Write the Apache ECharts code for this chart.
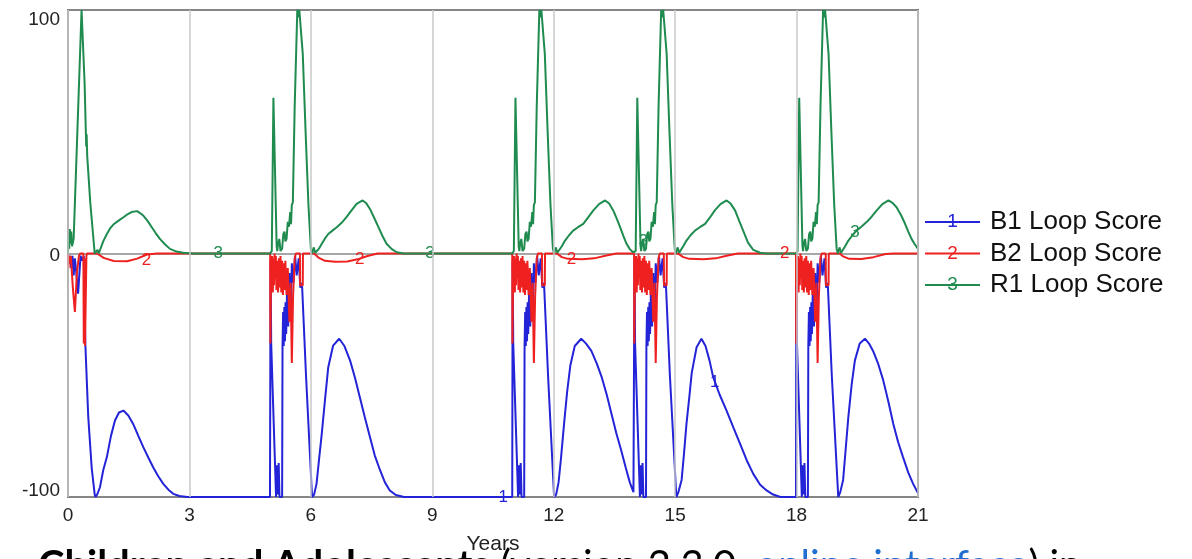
<!DOCTYPE html>
<html>
<head>
<meta charset="utf-8">
<script src="https://cdn.jsdelivr.net/npm/echarts@6/dist/echarts.min.js"></script>
<style>
html,body{margin:0;padding:0;background:#fff;}
#chart{width:1192px;height:559px;}
</style>
</head>
<body>
<div id="chart"></div>
<script>
// ---------------- DATA ----------------
const seriesNames = ['B1 Loop Score', 'B2 Loop Score', 'R1 Loop Score'];
const seriesDigits = ['1', '2', '3'];
const xTickStep = 3;
const yTickValues = [-100, 0, 100];

// B1 Loop Score (blue) [years, score]
const b1Ep1 = [[0,0],[0.02,-4],[0.05,-1],[0.08,-6],[0.11,-1],[0.14,-9],[0.17,-2],[0.2,-7],[0.25,-16.5],[0.29,-6],[0.31,-1],[0.35,-3],[0.39,-1],[0.41,-20],[0.43,-38],[0.5,-67],[0.585,-88],[0.66,-99],[0.68,-100],
  [0.72,-99],[0.79,-96],[0.87,-89],[0.96,-83.6],[1.06,-75],[1.16,-68.6],[1.26,-65.3],[1.37,-64.5],[1.49,-66.5],[1.61,-70],[1.74,-75],[1.86,-79.5],[1.99,-84],[2.11,-88],[2.23,-91.5],[2.35,-94.5],[2.48,-97],[2.6,-98.7],[2.75,-99.6],[2.95,-100],[4.99,-100]];
const b1Ep2 = [[5.0,-100],[5.005,-3],[5.02,-37],[5.14,-100],[5.165,-87],[5.185,-99],[5.205,-86],[5.225,-100],[5.29,-100],[5.30,-38],[5.315,-24],[5.33,-38],[5.345,-22],[5.36,-36],[5.375,-20],[5.39,-33],[5.41,-17],[5.44,-30],[5.47,-8],[5.50,-28],[5.53,-4],[5.57,-12],[5.61,-1],[5.65,-9],[5.70,-2],[5.74,-14],[5.78,-12],[5.88,-50],[6.03,-100],
  [6.08,-99],[6.14,-94.6],[6.2,-85],[6.27,-74],[6.35,-60],[6.43,-46.7],[6.55,-37.8],[6.70,-35],[6.83,-38],[6.97,-44],[7.09,-51],[7.21,-59],[7.33,-67],[7.46,-75.4],[7.58,-83],[7.71,-89],[7.83,-94],[7.95,-97.3],[8.1,-99.2],[8.3,-100],[10.975,-100]];
const b1Ep3 = [[10.98,-100],[10.985,-3],[11.0,-37],[11.12,-100],[11.145,-87],[11.165,-99],[11.185,-86],[11.205,-100],[11.27,-100],[11.28,-38],[11.295,-24],[11.31,-38],[11.325,-22],[11.34,-36],[11.355,-20],[11.37,-33],[11.39,-17],[11.42,-30],[11.45,-8],[11.48,-28],[11.51,-4],[11.55,-12],[11.59,-1],[11.63,-9],[11.68,-2],[11.72,-14],[11.76,-12],[11.86,-50],[12.01,-100],
  [12.06,-99],[12.12,-94],[12.18,-84],[12.25,-71],[12.33,-57],[12.41,-46],[12.52,-38],[12.68,-35],[12.8,-37],[12.93,-40],[13.06,-45],[13.19,-51],[13.31,-58],[13.43,-66],[13.55,-74],[13.67,-81],[13.78,-88],[13.88,-94],[13.97,-98]];
const b1Ep4 = [[13.99,-98],[13.995,-3],[14.01,-37],[14.13,-100],[14.155,-87],[14.175,-99],[14.195,-86],[14.215,-100],[14.28,-100],[14.29,-38],[14.305,-24],[14.32,-38],[14.335,-22],[14.35,-36],[14.365,-20],[14.38,-33],[14.40,-17],[14.43,-30],[14.46,-8],[14.49,-28],[14.52,-4],[14.56,-12],[14.60,-1],[14.64,-9],[14.69,-2],[14.73,-14],[14.77,-12],[14.87,-50],[15.03,-100],
  [15.08,-98],[15.16,-93],[15.22,-82],[15.28,-70],[15.35,-59],[15.41,-49],[15.53,-38.5],[15.65,-35],[15.75,-38],[15.85,-44],[15.94,-50.8],[16.1,-58],[16.27,-64.5],[16.44,-71.5],[16.6,-78],[16.77,-85],[16.93,-90.5],[17.1,-95],[17.26,-97.3],[17.42,-99],[17.6,-100],[17.985,-100]];
const b1Ep5 = [[17.99,-100],[17.995,-3],[18.01,-37],[18.13,-100],[18.155,-87],[18.175,-99],[18.195,-86],[18.215,-100],[18.28,-100],[18.29,-38],[18.305,-24],[18.32,-38],[18.335,-22],[18.35,-36],[18.365,-20],[18.38,-33],[18.40,-17],[18.43,-30],[18.46,-8],[18.49,-28],[18.52,-4],[18.56,-12],[18.60,-1],[18.64,-9],[18.69,-2],[18.73,-14],[18.77,-12],[18.87,-50],[19.03,-100],
  [19.08,-98],[19.15,-93],[19.21,-81],[19.28,-67],[19.36,-54],[19.44,-44],[19.56,-37],[19.69,-35],[19.79,-37],[19.89,-40],[20.01,-45],[20.14,-52],[20.27,-61],[20.39,-70],[20.51,-77.5],[20.63,-83.6],[20.76,-90],[20.88,-94.6],[21.0,-98.4]];

// B2 Loop Score (red)
const b2Ep1 = [[0,0],[0.01,-6],[0.03,-1],[0.05,-4],[0.07,-1],[0.12,-14],[0.17,-24],[0.22,-8],[0.27,-1],[0.3,0],[0.38,0],[0.39,-37],[0.405,-2],[0.42,-38],[0.44,-38],[0.455,-1],[0.47,0],
  [0.72,0],[0.88,-1.8],[1.13,-3.1],[1.46,-3.2],[1.71,-2.1],[1.95,-0.4],[2.2,0],[4.995,0]];
const b2Ep2 = [[5.0,-37],[5.012,-37],[5.02,-2],[5.03,-14],[5.045,-1],[5.06,-16],[5.075,-2],[5.09,-13],[5.105,0],[5.12,-10],[5.135,-1],[5.15,-15],[5.17,-3],[5.19,-16],[5.21,-2],[5.23,-14],[5.25,-1],[5.27,-16],[5.29,-3],[5.31,-17],[5.33,-4],[5.35,-15],[5.37,-3],[5.40,-17],[5.43,-6],[5.47,-28],[5.50,-12],[5.53,-45],[5.56,-18],[5.60,-2],[5.63,0],[5.73,0],[5.735,-13],[5.80,-13],[5.805,0],[6.08,0],
  [6.2,-1.8],[6.35,-3],[6.6,-3.4],[6.9,-3.3],[7.15,-2.4],[7.4,-1],[7.65,0],[10.975,0]];
const b2Ep3 = [[10.98,-37],[10.992,-37],[11.0,-2],[11.01,-14],[11.025,-1],[11.04,-16],[11.055,-2],[11.07,-13],[11.085,0],[11.10,-10],[11.115,-1],[11.13,-15],[11.15,-3],[11.17,-16],[11.19,-2],[11.21,-14],[11.23,-1],[11.25,-16],[11.27,-3],[11.29,-17],[11.31,-4],[11.33,-15],[11.35,-3],[11.38,-17],[11.41,-6],[11.45,-28],[11.48,-12],[11.51,-45],[11.54,-18],[11.58,-2],[11.61,0],[11.71,0],[11.715,-13],[11.78,-13],[11.785,0],[12.08,0],
  [12.2,-1.5],[12.35,-2.2],[12.7,-2.4],[13.0,-2],[13.3,-0.8],[13.55,0],[13.985,0]];
const b2Ep4 = [[13.99,-37],[14.002,-37],[14.01,-2],[14.02,-14],[14.035,-1],[14.05,-16],[14.065,-2],[14.08,-13],[14.095,0],[14.11,-10],[14.125,-1],[14.14,-15],[14.16,-3],[14.18,-16],[14.20,-2],[14.22,-14],[14.24,-1],[14.26,-16],[14.28,-3],[14.30,-17],[14.32,-4],[14.34,-15],[14.36,-3],[14.39,-17],[14.42,-6],[14.46,-28],[14.49,-12],[14.52,-45],[14.55,-18],[14.59,-2],[14.62,0],[14.72,0],[14.725,-13],[14.79,-13],[14.795,0],[15.07,0],
  [15.2,-1.5],[15.35,-2.2],[15.7,-2.4],[16.0,-2],[16.3,-0.8],[16.55,0],[17.985,0]];
const b2Ep5 = [[17.99,-37],[18.002,-37],[18.01,-2],[18.02,-14],[18.035,-1],[18.05,-16],[18.065,-2],[18.08,-13],[18.095,0],[18.11,-10],[18.125,-1],[18.14,-15],[18.16,-3],[18.18,-16],[18.20,-2],[18.22,-14],[18.24,-1],[18.26,-16],[18.28,-3],[18.30,-17],[18.32,-4],[18.34,-15],[18.36,-3],[18.39,-17],[18.42,-6],[18.46,-28],[18.49,-12],[18.52,-45],[18.55,-18],[18.59,-2],[18.62,0],[18.72,0],[18.725,-13],[18.79,-13],[18.795,0],[19.07,0],
  [19.15,-1.2],[19.3,-2.2],[19.6,-2.3],[19.9,-1.5],[20.2,-0.2],[20.4,0],[21,0]];

// R1 Loop Score (green)
const r1Ep1 = [[0,0],[0.015,8],[0.03,2],[0.045,10],[0.06,4],[0.08,9],[0.1,3],[0.14,6],[0.335,100],[0.365,100],[0.41,70],[0.45,44],[0.46,49],[0.475,40],[0.55,21],[0.66,0],[0.7,0],[0.73,1.5],[0.76,0],
  [0.79,0.5],[0.87,5],[0.96,8],[1.04,10.3],[1.12,11.9],[1.25,13.5],[1.37,14.9],[1.47,16.1],[1.57,17],[1.71,17.4],[1.86,15.6],[1.97,13.3],[2.07,10.8],[2.17,8.3],[2.27,6],[2.4,3.7],[2.52,1.9],[2.68,0.8],[2.85,0.3],[3.1,0],[4.99,0]];
const r1Ep2 = [[5.0,0],[5.035,1],[5.075,64],[5.09,64],[5.155,3],[5.17,1],[5.19,4],[5.22,6],[5.25,1],[5.29,2],[5.32,8],[5.35,9],[5.37,5],[5.40,6],[5.43,13],[5.46,11],[5.49,17],[5.51,12],[5.53,20],[5.555,21],[5.60,60],[5.665,100],[5.69,97],[5.715,100],[5.75,100],[5.80,82],[5.87,50],[5.94,20],[6.0,2],[6.03,0],[6.07,2.5],[6.11,0.3],[6.15,0.5],
  [6.2,2],[6.27,4],[6.35,6.2],[6.43,8],[6.54,9.5],[6.64,10.8],[6.76,12.6],[6.88,14.9],[7.0,17.6],[7.13,20.4],[7.28,21.8],[7.37,20.6],[7.46,18.3],[7.56,14.8],[7.67,10.8],[7.77,7.2],[7.87,4],[8.0,1.8],[8.12,0.5],[8.3,0],[10.975,0]];
const r1Ep3 = [[10.98,0],[11.015,1],[11.055,64],[11.07,64],[11.135,3],[11.15,1],[11.17,4],[11.20,6],[11.23,1],[11.27,2],[11.30,8],[11.33,9],[11.35,5],[11.38,6],[11.41,13],[11.44,11],[11.47,17],[11.49,12],[11.51,20],[11.535,21],[11.58,60],[11.645,100],[11.67,97],[11.695,100],[11.73,100],[11.78,82],[11.85,50],[11.92,20],[11.98,2],[12.01,0],[12.05,2.5],[12.09,0.3],[12.12,0.5],
  [12.2,3],[12.28,5.3],[12.38,7.5],[12.48,9.4],[12.6,10.8],[12.73,12.2],[12.85,14.8],[12.98,17.7],[13.12,20.3],[13.27,21.8],[13.37,20.5],[13.47,17.7],[13.56,14.2],[13.64,10.8],[13.72,7.2],[13.8,4],[13.88,1.8],[13.96,0.5],[13.985,0.2]];
const r1Ep4 = [[13.99,0],[14.025,1],[14.065,64],[14.08,64],[14.145,3],[14.16,1],[14.18,4],[14.21,6],[14.24,1],[14.28,2],[14.31,8],[14.34,9],[14.36,5],[14.39,6],[14.42,13],[14.45,11],[14.48,17],[14.50,12],[14.52,20],[14.545,21],[14.59,60],[14.655,100],[14.68,97],[14.705,100],[14.74,100],[14.79,82],[14.86,50],[14.93,20],[14.99,2],[15.02,0],[15.06,2.5],[15.10,0.3],[15.14,0.5],
  [15.2,3],[15.28,5.3],[15.38,7.5],[15.49,9.4],[15.61,10.8],[15.74,12.2],[15.86,14.8],[15.98,17.7],[16.12,20.3],[16.27,21.8],[16.37,20.5],[16.48,17.7],[16.58,13.5],[16.68,9.4],[16.8,4.5],[16.93,1.5],[17.1,0.3],[17.26,0],[17.985,0]];
const r1Ep5 = [[17.99,0],[18.025,1],[18.065,64],[18.08,64],[18.145,3],[18.16,1],[18.18,4],[18.21,6],[18.24,1],[18.28,2],[18.31,8],[18.34,9],[18.36,5],[18.39,6],[18.42,13],[18.45,11],[18.48,17],[18.50,12],[18.52,20],[18.545,21],[18.59,60],[18.655,100],[18.68,97],[18.705,100],[18.74,100],[18.79,82],[18.86,50],[18.93,20],[18.99,2],[19.02,0],[19.06,2.5],[19.10,0.3],[19.14,0.5],
  [19.2,3],[19.28,5.3],[19.38,7.5],[19.48,9.4],[19.6,11],[19.73,12.9],[19.86,15.2],[19.98,17.7],[20.12,20.3],[20.27,21.8],[20.37,20.8],[20.47,19],[20.58,15.8],[20.68,12.2],[20.76,9],[20.84,6],[20.92,3.8],[21.0,1.9]];

// Vensim-style line identifiers placed along each line [years, score]
const b1Marks = [[10.75,-100],[15.98,-53]];
const b2Marks = [[1.94,-2.6],[7.21,-2.4],[12.44,-2.2],[17.71,0]];
const r1Marks = [[3.71,0],[8.94,0],[14.21,5],[19.44,8.8]];

// ---------------- CHART ----------------
const colors = ['#2323d8', '#ee2020', '#1f8b4f'];
const seriesData = [
  [].concat(b1Ep1, b1Ep2, b1Ep3, b1Ep4, b1Ep5),
  [].concat(b2Ep1, b2Ep2, b2Ep3, b2Ep4, b2Ep5),
  [].concat(r1Ep1, r1Ep2, r1Ep3, r1Ep4, r1Ep5)
];
const seriesMarks = [b1Marks, b2Marks, r1Marks];

const font = "'Liberation Sans', Arial, Helvetica, sans-serif";
const chart = echarts.init(document.getElementById('chart'), null, {renderer: 'canvas'});

const legendTop = 209, legendRow = 31.5;

const option = {
  animation: false,
  backgroundColor: '#fff',
  textStyle: {fontFamily: font},
  color: colors,
  grid: {left: 68, right: 274, top: 10, bottom: 62, containLabel: false, outerBoundsMode: 'none',
    show: true, borderColor: '#7d7d7d', borderWidth: 2, backgroundColor: 'transparent'},
  legend: {
    orient: 'vertical', left: 925, top: legendTop, padding: 0,
    itemWidth: 55, itemHeight: 2, itemGap: legendRow - 26, icon: 'rect',
    textStyle: {fontSize: 26, lineHeight: 26, color: '#111', fontFamily: font, padding: [0, 0, 0, 5]},
    data: seriesNames, selectedMode: false
  },
  xAxis: {
    type: 'value', min: 0, max: 21, interval: xTickStep, z: 20,
    name: 'Years', nameLocation: 'middle', nameGap: 37,
    nameTextStyle: {fontSize: 21, color: '#222', fontFamily: font},
    axisLine: {show: false}, axisTick: {show: false},
    axisLabel: {fontSize: 19, color: '#222', margin: 9, fontFamily: font},
    splitLine: {show: true, lineStyle: {color: '#c9c9c9', width: 1.5}}
  },
  yAxis: {
    type: 'value', min: yTickValues[0], max: yTickValues[2], interval: 100,
    axisLine: {show: false}, axisTick: {show: false},
    axisLabel: {
      fontSize: 19, color: '#222', margin: 8, fontFamily: font,
      formatter: function (v) {
        if (v === yTickValues[2]) return '{t|' + v + '}';
        if (v === yTickValues[0]) return '{b|' + v + '}';
        return '{m|' + v + '}';
      },
      rich: {
        t: {fontSize: 19, fontFamily: font, padding: [20, 0, 0, 0]},
        m: {fontSize: 19, fontFamily: font, padding: [4, 0, 0, 0]},
        b: {fontSize: 19, fontFamily: font, padding: [0, 0, 12, 0]}
      }
    },
    splitLine: {show: true, lineStyle: {color: '#8a8a8a', width: 1.5}}
  },
  series: seriesNames.map(function (name, i) {
    return {
      name: name, type: 'line', data: seriesData[i],
      showSymbol: false, symbol: 'none', smooth: false,
      lineStyle: {color: colors[i], width: 2},
      itemStyle: {color: colors[i]},
      z: 2 + i,
      markPoint: {
        symbol: 'rect', symbolSize: [1, 1], silent: true,
        itemStyle: {color: 'rgba(0,0,0,0)'},
        label: {show: true, position: 'inside', color: colors[i], fontSize: 17, fontFamily: font, formatter: seriesDigits[i]},
        data: seriesMarks[i].map(function (p) { return {coord: p}; })
      }
    };
  }),
  graphic: [].concat(
    seriesDigits.map(function (d, i) {
      return {
        type: 'text', x: 952.5, y: legendTop + 13 + i * legendRow, z: 100,
        style: {text: d, fill: colors[i], font: '19px ' + font, align: 'center', verticalAlign: 'middle'}
      };
    }),
    [{
      type: 'text', x: 38, y: 546, z: -1,
      style: {
        text: '{b|Children and Adolescents} {r|(version 2.3.0, }{l|online interface}{r|) in}',
        verticalAlign: 'top',
        rich: {
          b: {font: 'bold 40px Lato, sans-serif', fill: '#000'},
          r: {font: '40px Lato, sans-serif', fill: '#000'},
          l: {font: '40px Lato, sans-serif', fill: '#1f6fd1'}
        },
        font: '40px Lato, sans-serif'
      }
    }]
  )
};
chart.setOption(option);
</script>
</body>
</html>
